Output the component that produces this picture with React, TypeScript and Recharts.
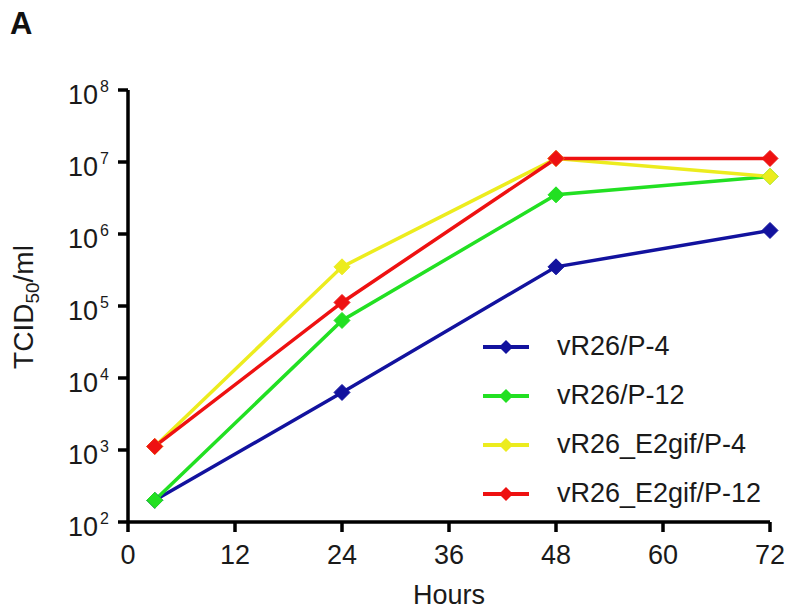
import { LineChart, Line, XAxis, YAxis, Legend } from 'recharts';

const hours = [3, 24, 48, 72];
const p4 = [200, 6300, 350000, 1120000];
const p12 = [200, 63000, 3500000, 6300000];
const e2gifP4 = [1120, 350000, 11200000, 6300000];
const e2gifP12 = [1120, 112000, 11200000, 11200000];

const xTicks = [0, 12, 24, 36, 48, 60, 72];
const yTicks = [1e2, 1e3, 1e4, 1e5, 1e6, 1e7, 1e8];

const series = [
  { key: 'p4', name: 'vR26/P-4', color: '#12129e' },
  { key: 'p12', name: 'vR26/P-12', color: '#22e022' },
  { key: 'e2p4', name: 'vR26_E2gif/P-4', color: '#ecec1e' },
  { key: 'e2p12', name: 'vR26_E2gif/P-12', color: '#ee1111' },
];

const rows = hours.map((h, i) => ({
  h,
  p4: p4[i],
  p12: p12[i],
  e2p4: e2gifP4[i],
  e2p12: e2gifP12[i],
}));

const FONT = '"Liberation Sans", Arial, sans-serif';

const Diamond = (props: any) => {
  const { cx, cy, stroke } = props;
  if (cx == null || cy == null) return null;
  const r = 8;
  return (
    <polygon
      points={`${cx},${cy - r} ${cx + r},${cy} ${cx},${cy + r} ${cx - r},${cy}`}
      fill={stroke}
      stroke={stroke}
      strokeWidth={1}
    />
  );
};

const YTick = (props: any) => {
  const { x, y, payload } = props;
  const exp = Math.round(Math.log10(payload.value));
  return (
    <g fontFamily={FONT} fill="#1a1a1a">
      <text x={x - 20} y={y + 14} textAnchor="end" fontSize={27}>10</text>
      <text x={x - 18} y={y + 2} textAnchor="start" fontSize={16}>{exp}</text>
    </g>
  );
};

const XTick = (props: any) => {
  const { x, y, payload } = props;
  return (
    <text x={x} y={y + 32} textAnchor="middle" fontSize={27} fontFamily={FONT} fill="#1a1a1a">
      {payload.value}
    </text>
  );
};

const LegendBox = () => (
  <div style={{ fontFamily: FONT, fontSize: 27, color: '#1a1a1a' }}>
    {series.map(s => (
      <div key={s.key} style={{ display: 'flex', alignItems: 'center', height: 49 }}>
        <svg width={74} height={20}>
          <line x1={0} y1={10} x2={46} y2={10} stroke={s.color} strokeWidth={4} />
          <polygon points="23,3 30,10 23,17 16,10" fill={s.color} />
        </svg>
        <span>{s.name}</span>
      </div>
    ))}
  </div>
);

export default function App() {
  return (
    <div style={{ position: 'absolute', left: 0, top: 0, width: 789, height: 615, background: '#fff' }}>
      <div style={{ position: 'absolute', left: 10, top: 6, fontFamily: FONT, fontWeight: 'bold', fontSize: 31, color: '#111' }}>
        A
      </div>
      <LineChart width={789} height={615} data={rows} margin={{ top: 90, right: 19, bottom: 0, left: 0 }}>
        <XAxis
          dataKey="h"
          type="number"
          domain={[0, 72]}
          ticks={xTicks}
          height={93}
          tick={<XTick />}
          tickSize={10}
          tickMargin={0}
          axisLine={{ stroke: '#000', strokeWidth: 3.5 }}
          tickLine={{ stroke: '#000', strokeWidth: 3.5 }}
          label={{
            content: () => (
              <text x={449} y={604} textAnchor="middle" fontSize={27} fontFamily={FONT} fill="#1a1a1a">
                Hours
              </text>
            ),
          }}
        />
        <YAxis
          scale="log"
          domain={[1e2, 1e8]}
          ticks={yTicks}
          width={128}
          tick={<YTick />}
          tickSize={10}
          tickMargin={0}
          allowDataOverflow
          axisLine={{ stroke: '#000', strokeWidth: 3.5 }}
          tickLine={{ stroke: '#000', strokeWidth: 3.5 }}
          label={{
            content: () => (
              <text
                x={33}
                y={307}
                textAnchor="middle"
                fontSize={28}
                fontFamily={FONT}
                fill="#1a1a1a"
                transform="rotate(-90 33 307)"
              >
                TCID<tspan fontSize={19} dy={6}>50</tspan><tspan dy={-6}>/ml</tspan>
              </text>
            ),
          }}
        />
        <Legend
          layout="horizontal"
          verticalAlign="middle"
          align="center"
          content={<LegendBox />}
          wrapperStyle={{ position: 'absolute', left: 483, top: 322, width: 305 }}
        />
        {series.map(s => (
          <Line
            key={s.key}
            dataKey={s.key}
            name={s.name}
            stroke={s.color}
            strokeWidth={3.5}
            type="linear"
            dot={<Diamond />}
            activeDot={false}
            isAnimationActive={false}
          />
        ))}
      </LineChart>
    </div>
  );
}
